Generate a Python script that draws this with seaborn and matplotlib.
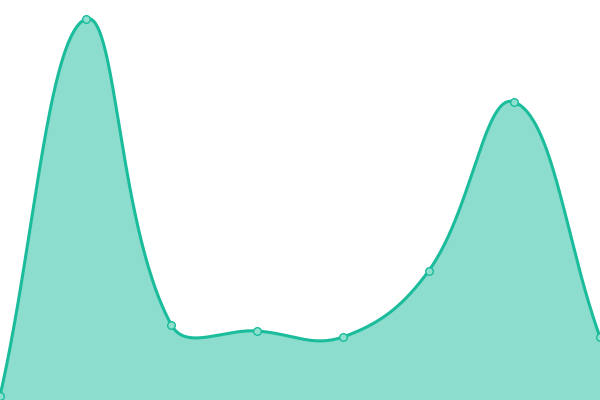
import matplotlib
matplotlib.use("Agg")
import matplotlib.pyplot as plt
import numpy as np
import pandas as pd
import seaborn as sns

# datos
posiciones = [0, 1, 2, 3, 4, 5, 6, 7]
valores = [4, 381, 75, 69, 63, 129, 298, 63]

verde = "#1abc9c"
relleno = "#8ee0cf"

ANCHO, ALTO = 600, 400
XMAX, YMAX = 7, 400
TENSION = 0.4


def curva_suave(x, y, tension=TENSION, n=60):
    # spline tipo chart.js, calculada en pixeles
    kx = ANCHO / XMAX
    ky = ALTO / YMAX
    P = np.column_stack([np.asarray(x, float) * kx, np.asarray(y, float) * ky])
    N = len(P)
    cp_prev = P.copy()
    cp_next = P.copy()
    for i in range(N):
        prev = P[max(i - 1, 0)]
        nxt = P[min(i + 1, N - 1)]
        d01 = np.hypot(*(P[i] - prev))
        d12 = np.hypot(*(nxt - P[i]))
        s = d01 + d12
        fa = tension * d01 / s if s else 0
        fb = tension * d12 / s if s else 0
        cp_prev[i] = P[i] - fa * (nxt - prev)
        cp_next[i] = P[i] + fb * (nxt - prev)
    t = np.linspace(0, 1, n, endpoint=False)[:, None]
    trozos = []
    for i in range(N - 1):
        p1, c1, c2, p2 = P[i], cp_next[i], cp_prev[i + 1], P[i + 1]
        trozos.append((1 - t)**3 * p1 + 3 * (1 - t)**2 * t * c1
                      + 3 * (1 - t) * t**2 * c2 + t**3 * p2)
    trozos.append(P[-1][None, :])
    C = np.vstack(trozos)
    return C[:, 0] / kx, C[:, 1] / ky


sx, sy = curva_suave(posiciones, valores)
curva = pd.DataFrame({"x": sx, "y": sy})
puntos = pd.DataFrame({"x": posiciones, "y": valores})

sns.set_style("white")
fig = plt.figure(figsize=(6, 4), dpi=100)
ax = fig.add_axes([0, 0, 1, 1])

ax.fill_between(curva.x, 0, curva.y, color=verde, alpha=0.5, linewidth=0)
sns.lineplot(data=curva, x="x", y="y", ax=ax, color=verde, linewidth=2.2, sort=False)
sns.scatterplot(data=puntos, x="x", y="y", ax=ax, s=30, color=relleno,
                edgecolor=verde, linewidth=1.0, zorder=5, clip_on=False)

ax.set_xlim(0, XMAX)
ax.set_ylim(0, YMAX)
ax.axis("off")

fig.savefig("out.png", dpi=100)
